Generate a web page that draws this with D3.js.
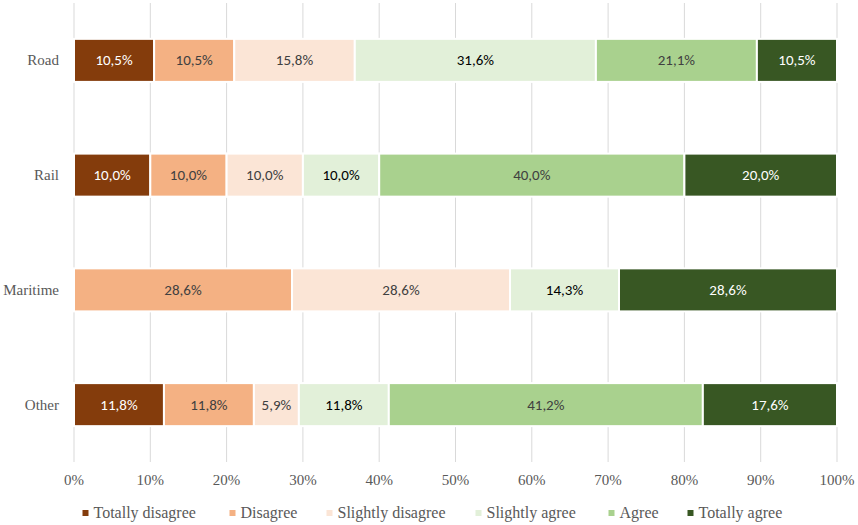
<!DOCTYPE html>
<html><head><meta charset="utf-8"><script src="https://cdn.jsdelivr.net/npm/d3@7"></script></head>
<body style="margin:0;background:#fff">
<svg id="s" width="858" height="525" font-family="Liberation Serif, Tinos, serif" style="display:block"></svg>
<script>
// ---- data ----
const categories = ["Road", "Rail", "Maritime", "Other"];
const seriesNames = ["Totally disagree", "Disagree", "Slightly disagree", "Slightly agree", "Agree", "Totally agree"];
const totallyDisagree = [10.5, 10.0, 0, 11.8];
const disagree        = [10.5, 10.0, 28.6, 11.8];
const slightlyDisagree= [15.8, 10.0, 28.6, 5.9];
const slightlyAgree   = [31.6, 10.0, 14.3, 11.8];
const agree           = [21.1, 40.0, 0, 41.2];
const totallyAgree    = [10.5, 20.0, 28.6, 17.6];
const tickValues = [0, 10, 20, 30, 40, 50, 60, 70, 80, 90, 100];

const seriesValues = [totallyDisagree, disagree, slightlyDisagree, slightlyAgree, agree, totallyAgree];
const colors = ["#843C0C", "#F4B183", "#FBE5D6", "#E2F0D9", "#A9D18E", "#385723"];
const labelColors = ["#ffffff", "#404040", "#404040", "#000000", "#404040", "#ffffff"];

const svg = d3.select("#s");
const x = d3.scaleLinear().domain([0, 100]).range([74, 837]);
const y = d3.scaleBand().domain(categories).range([3, 462]).paddingInner(0.625).paddingOuter(0.3125);

svg.append("g").selectAll("line").data(tickValues).join("line")
  .attr("x1", d => x(d)).attr("x2", d => x(d))
  .attr("y1", 3).attr("y2", 462)
  .attr("stroke", "#d9d9d9").attr("stroke-width", 1);

const table = categories.map((c, i) => {
  const row = { category: c };
  let tot = 0;
  seriesNames.forEach((s, j) => { tot += seriesValues[j][i]; });
  seriesNames.forEach((s, j) => { row[s] = seriesValues[j][i] * 100 / tot; row["_raw_" + s] = seriesValues[j][i]; });
  return row;
});
const stacked = d3.stack().keys(seriesNames)(table);
const fmt = v => v.toFixed(1).replace(".", ",") + "%";

stacked.forEach((layer, j) => {
  const g = svg.append("g").attr("font-family", "Carlito, Lato, sans-serif");
  const segs = layer.filter(d => d[1] - d[0] > 0);
  g.selectAll("rect").data(segs).join("rect")
    .attr("x", d => x(d[0]))
    .attr("y", d => y(d.data.category))
    .attr("width", d => x(d[1]) - x(d[0]))
    .attr("height", y.bandwidth())
    .attr("fill", colors[j])
    .attr("stroke", "#ffffff")
    .attr("stroke-width", 2);
  g.selectAll("text").data(segs).join("text")
    .attr("x", d => (x(d[0]) + x(d[1])) / 2)
    .attr("y", d => y(d.data.category) + y.bandwidth() / 2 + 5)
    .attr("text-anchor", "middle")
    .attr("font-size", 15)
    .attr("fill", labelColors[j])
    .text(d => fmt(d.data["_raw_" + seriesNames[j]]));
});

svg.append("g").selectAll("text").data(categories).join("text")
  .attr("x", 59)
  .attr("y", d => y(d) + y.bandwidth() / 2 + 5)
  .attr("text-anchor", "end")
  .attr("font-size", 15)
  .attr("fill", "#595959")
  .text(d => d);

svg.append("g").selectAll("text").data(tickValues).join("text")
  .attr("x", d => x(d))
  .attr("y", 485)
  .attr("text-anchor", "middle")
  .attr("font-size", 15)
  .attr("fill", "#595959")
  .text(d => d + "%");

const legendWidths = [110, 60, 112, 96, 42, 92];
const legend = svg.append("g");
let lx = 0;
const starts = legendWidths.map(w => { const s = lx; lx += 11 + w + 26; return s; });
const totalW = lx - 26;
const lg = legend.selectAll("g").data(seriesNames).join("g")
  .attr("transform", (d, i) => `translate(${436.5 - totalW / 2 + starts[i]},513)`);
lg.append("rect").attr("x", 0).attr("y", -3).attr("width", 6).attr("height", 6).attr("fill", (d, i) => colors[i]);
lg.append("text").attr("x", 11).attr("y", 5)
  .attr("font-size", 16).attr("fill", "#595959").text(d => d);
</script>
</body></html>
